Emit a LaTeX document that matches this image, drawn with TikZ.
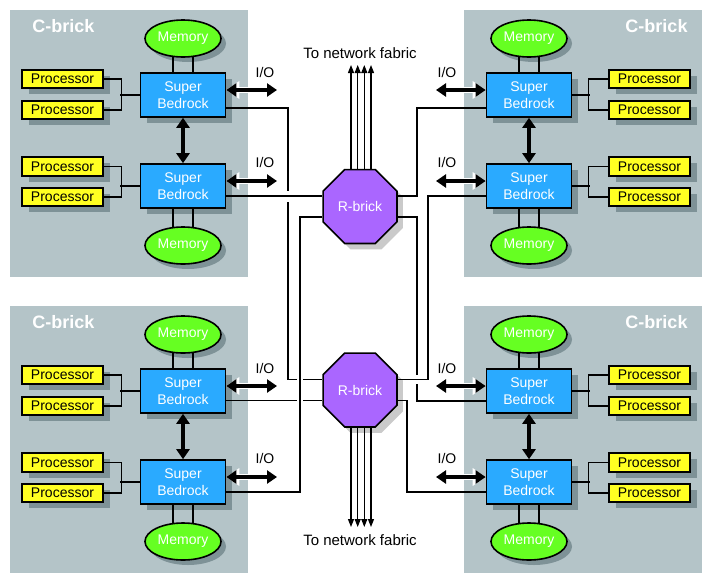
\documentclass[tikz,border=0pt]{standalone}
\usepackage{fontspec}
\setmainfont{Liberation Sans}
\usetikzlibrary{shapes.geometric, shadows, calc, arrows.meta}

\definecolor{brickgray}{HTML}{B4C4C8}
\definecolor{brickshade}{HTML}{7E9297}
\definecolor{bedrockblue}{HTML}{2AAAFF}
\definecolor{memgreen}{HTML}{66FF22}
\definecolor{procyellow}{HTML}{FFFF22}
\definecolor{rbrickpurple}{HTML}{AA66FF}
\definecolor{rbrickshade}{HTML}{CACACA}

\begin{document}
\begin{tikzpicture}[x=1pt, y=-1pt,
    cbrick/.style={fill=brickgray, minimum width=238pt, minimum height=267pt, inner sep=0pt},
    cbricklabel/.style={text=white, font=\fontsize{18}{20}\selectfont\bfseries, inner sep=0pt},
    memory/.style={ellipse, draw, line width=1.6pt, fill=memgreen, minimum width=76pt, minimum height=37pt, inner sep=0pt, text=white, font=\fontsize{14}{16}\selectfont, drop shadow={shadow xshift=5pt, shadow yshift=-5pt, fill=brickshade, opacity=1}},
    bedrock/.style={draw, line width=1.6pt, fill=bedrockblue, minimum width=85pt, minimum height=44pt, inner sep=0pt, align=center, text=white, font=\fontsize{14}{17}\selectfont, drop shadow={shadow xshift=6pt, shadow yshift=-6pt, fill=brickshade, opacity=1}},
    processor/.style={draw, line width=1.6pt, fill=procyellow, minimum width=81pt, minimum height=18.5pt, inner sep=0pt, font=\fontsize{14}{16}\selectfont, drop shadow={shadow xshift=7pt, shadow yshift=-6pt, fill=brickshade, opacity=1}},
    rbrick/.style={regular polygon, regular polygon sides=8, minimum size=80pt, draw, line width=1.6pt, fill=rbrickpurple, inner sep=0pt, text=white, font=\fontsize{14}{16}\selectfont, drop shadow={shadow xshift=6pt, shadow yshift=-6pt, fill=rbrickshade, opacity=1}},
    iolabel/.style={font=\fontsize{14}{16}\selectfont, inner sep=0pt},
    fabriclabel/.style={font=\fontsize{15}{17}\selectfont, inner sep=0pt},
    wire/.style={line width=1.3pt},
    bridge/.style={line width=1.3pt, preaction={draw=white, line width=#1}},
    bridge/.default=8pt,
    link/.style={line width=4pt, {Triangle[width=13pt,length=10pt]}-{Triangle[width=13pt,length=10pt]}},
    bus/.style={line width=4pt, {Triangle[width=13pt,length=10pt]}-{Triangle[width=13pt,length=10pt]}, preaction={draw=white, line width=5.5pt, {Triangle[width=17pt,length=13pt]}-{Triangle[width=17pt,length=13pt]}}},
    fabric/.style={line width=1.3pt, -{Triangle[width=6pt,length=8pt]}}]

    \useasboundingbox (0,0) rectangle (712,584);

    \node[cbrick] (boxTL) at (129,143.5) {};
    \node[cbrick] (boxTR) at (583,143.5) {};
    \node[cbrick] (boxBL) at (129,439.5) {};
    \node[cbrick] (boxBR) at (583,439.5) {};
    \node[cbricklabel] (cbTL) at (63.5,26) {C-brick};
    \node[cbricklabel] (cbTR) at (656.5,26) {C-brick};
    \node[cbricklabel] (cbBL) at (63.5,322) {C-brick};
    \node[cbricklabel] (cbBR) at (656.5,322) {C-brick};

    \node[memory] (memTL1) at (183,38.5) {Memory};
    \node[memory] (memTL2) at (183,245.5) {Memory};
    \node[memory] (memTR1) at (529,38.5) {Memory};
    \node[memory] (memTR2) at (529,245.5) {Memory};
    \node[memory] (memBL1) at (183,334.5) {Memory};
    \node[memory] (memBL2) at (183,541.5) {Memory};
    \node[memory] (memBR1) at (529,334.5) {Memory};
    \node[memory] (memBR2) at (529,541.5) {Memory};

    \node[bedrock] (sbTL1) at (183,95) {Super\\Bedrock};
    \node[bedrock] (sbTL2) at (183,186) {Super\\Bedrock};
    \node[bedrock] (sbTR1) at (529,95) {Super\\Bedrock};
    \node[bedrock] (sbTR2) at (529,186) {Super\\Bedrock};
    \node[bedrock] (sbBL1) at (183,391) {Super\\Bedrock};
    \node[bedrock] (sbBL2) at (183,482) {Super\\Bedrock};
    \node[bedrock] (sbBR1) at (529,391) {Super\\Bedrock};
    \node[bedrock] (sbBR2) at (529,482) {Super\\Bedrock};

    \node[processor] (pTL1) at (62.5,79) {Processor};
    \node[processor] (pTL2) at (62.5,110) {Processor};
    \node[processor] (pTL3) at (62.5,166.5) {Processor};
    \node[processor] (pTL4) at (62.5,197) {Processor};
    \node[processor] (pTR1) at (649.5,79) {Processor};
    \node[processor] (pTR2) at (649.5,110) {Processor};
    \node[processor] (pTR3) at (649.5,166.5) {Processor};
    \node[processor] (pTR4) at (649.5,197) {Processor};
    \node[processor] (pBL1) at (62.5,375) {Processor};
    \node[processor] (pBL2) at (62.5,406) {Processor};
    \node[processor] (pBL3) at (62.5,462.5) {Processor};
    \node[processor] (pBL4) at (62.5,493) {Processor};
    \node[processor] (pBR1) at (649.5,375) {Processor};
    \node[processor] (pBR2) at (649.5,406) {Processor};
    \node[processor] (pBR3) at (649.5,462.5) {Processor};
    \node[processor] (pBR4) at (649.5,493) {Processor};

    \node[rbrick] (rtop) at (360,206.5) {R-brick};
    \node[rbrick] (rbot) at (360,390) {R-brick};
    \node[fabriclabel] (fabtoplabel) at (360,53) {To network fabric};
    \node[fabriclabel] (fabbotlabel) at (360,540) {To network fabric};
    \coordinate (fabtop) at (361,65);
    \coordinate (fabbot) at (361,527);

    \node[iolabel] (ioTL1) at (265,72) {I/O};
    \node[iolabel] (ioTL2) at (265,162) {I/O};
    \node[iolabel] (ioTR1) at (447,72) {I/O};
    \node[iolabel] (ioTR2) at (447,162) {I/O};
    \node[iolabel] (ioBL1) at (265,368) {I/O};
    \node[iolabel] (ioBL2) at (265,458) {I/O};
    \node[iolabel] (ioBR1) at (447,368) {I/O};
    \node[iolabel] (ioBR2) at (447,458) {I/O};
    \coordinate (ioTL1e) at (277,90);
    \coordinate (ioTL2e) at (277,181);
    \coordinate (ioTR1e) at (436,90);
    \coordinate (ioTR2e) at (436,181);
    \coordinate (ioBL1e) at (277,386);
    \coordinate (ioBL2e) at (277,477);
    \coordinate (ioBR1e) at (436,386);
    \coordinate (ioBR2e) at (436,477);

    \draw[wire] (pTL1.east) -- ++(18,0) |- (pTL2.east);
    \draw[wire] (pTL3.east) -- ++(18,0) |- (pTL4.east);
    \draw[wire] (pBL1.east) -- ++(18,0) |- (pBL2.east);
    \draw[wire] (pBL3.east) -- ++(18,0) |- (pBL4.east);
    \draw[wire] (pTR1.west) -- ++(-20,0) |- (pTR2.west);
    \draw[wire] (pTR3.west) -- ++(-20,0) |- (pTR4.west);
    \draw[wire] (pBR1.west) -- ++(-20,0) |- (pBR2.west);
    \draw[wire] (pBR3.west) -- ++(-20,0) |- (pBR4.west);
    \draw[wire] (sbTL1.west) -- ++(-19.5,0);
    \draw[wire] (sbTL2.west) -- ++(-19.5,0);
    \draw[wire] (sbBL1.west) -- ++(-19.5,0);
    \draw[wire] (sbBL2.west) -- ++(-19.5,0);
    \draw[wire] (sbTR1.east) -- ++(17.5,0);
    \draw[wire] (sbTR2.east) -- ++(17.5,0);
    \draw[wire] (sbBR1.east) -- ++(17.5,0);
    \draw[wire] (sbBR2.east) -- ++(17.5,0);

    \draw[wire] ($(memTL1.south)+(-10,-1)$) -- ($(sbTL1.north)+(-10,0)$);
    \draw[wire] ($(memTL1.south)+(10,-1)$) -- ($(sbTL1.north)+(10,0)$);
    \draw[wire] ($(memTL2.north)+(-10,1)$) -- ($(sbTL2.south)+(-10,0)$);
    \draw[wire] ($(memTL2.north)+(10,1)$) -- ($(sbTL2.south)+(10,0)$);
    \draw[wire] ($(memTR1.south)+(-10,-1)$) -- ($(sbTR1.north)+(-10,0)$);
    \draw[wire] ($(memTR1.south)+(10,-1)$) -- ($(sbTR1.north)+(10,0)$);
    \draw[wire] ($(memTR2.north)+(-10,1)$) -- ($(sbTR2.south)+(-10,0)$);
    \draw[wire] ($(memTR2.north)+(10,1)$) -- ($(sbTR2.south)+(10,0)$);
    \draw[wire] ($(memBL1.south)+(-10,-1)$) -- ($(sbBL1.north)+(-10,0)$);
    \draw[wire] ($(memBL1.south)+(10,-1)$) -- ($(sbBL1.north)+(10,0)$);
    \draw[wire] ($(memBL2.north)+(-10,1)$) -- ($(sbBL2.south)+(-10,0)$);
    \draw[wire] ($(memBL2.north)+(10,1)$) -- ($(sbBL2.south)+(10,0)$);
    \draw[wire] ($(memBR1.south)+(-10,-1)$) -- ($(sbBR1.north)+(-10,0)$);
    \draw[wire] ($(memBR1.south)+(10,-1)$) -- ($(sbBR1.north)+(10,0)$);
    \draw[wire] ($(memBR2.north)+(-10,1)$) -- ($(sbBR2.south)+(-10,0)$);
    \draw[wire] ($(memBR2.north)+(10,1)$) -- ($(sbBR2.south)+(10,0)$);

    \draw[link] (sbTL1.south) -- (sbTL2.north);
    \draw[link] (sbTR1.south) -- (sbTR2.north);
    \draw[link] (sbBL1.south) -- (sbBL2.north);
    \draw[link] (sbBR1.south) -- (sbBR2.north);

    \draw[bus] (sbTL1.east |- ioTL1e) -- (ioTL1e);
    \draw[bus] (sbTL2.east |- ioTL2e) -- (ioTL2e);
    \draw[bus] (sbBL1.east |- ioBL1e) -- (ioBL1e);
    \draw[bus] (sbBL2.east |- ioBL2e) -- (ioBL2e);
    \draw[bus] (ioTR1e) -- (sbTR1.west |- ioTR1e);
    \draw[bus] (ioTR2e) -- (sbTR2.west |- ioTR2e);
    \draw[bus] (ioBR1e) -- (sbBR1.west |- ioBR1e);
    \draw[bus] (ioBR2e) -- (sbBR2.west |- ioBR2e);

    \draw[fabric] ($(rtop.north -| fabtop)+(-10,0)$) -- ($(fabtop)+(-10,0)$);
    \draw[fabric] ($(rtop.north -| fabtop)+(-3.3,0)$) -- ($(fabtop)+(-3.3,0)$);
    \draw[fabric] ($(rtop.north -| fabtop)+(3.3,0)$) -- ($(fabtop)+(3.3,0)$);
    \draw[fabric] ($(rtop.north -| fabtop)+(10,0)$) -- ($(fabtop)+(10,0)$);
    \draw[fabric] ($(rbot.south -| fabbot)+(-10,0)$) -- ($(fabbot)+(-10,0)$);
    \draw[fabric] ($(rbot.south -| fabbot)+(-3.3,0)$) -- ($(fabbot)+(-3.3,0)$);
    \draw[fabric] ($(rbot.south -| fabbot)+(3.3,0)$) -- ($(fabbot)+(3.3,0)$);
    \draw[fabric] ($(rbot.south -| fabbot)+(10,0)$) -- ($(fabbot)+(10,0)$);

    \coordinate (colA) at (288,0);
    \coordinate (colB) at (300,0);
    \coordinate (colC) at (407,0);
    \coordinate (colD) at (417,0);
    \coordinate (colE) at (428,0);
    \coordinate (rtW1) at ($(rtop.west)+(0,-10.5)$);
    \coordinate (rtW2) at ($(rtop.west)+(0,10.5)$);
    \coordinate (rtE1) at ($(rtop.east)+(0,-10.5)$);
    \coordinate (rtE2) at ($(rtop.east)+(0,10.5)$);
    \coordinate (rbW1) at ($(rbot.west)+(0,-10.5)$);
    \coordinate (rbW2) at ($(rbot.west)+(0,10.5)$);
    \coordinate (rbE1) at ($(rbot.east)+(0,-10.5)$);
    \coordinate (rbE2) at ($(rbot.east)+(0,10.5)$);
    \coordinate (tl1p) at ($(sbTL1.east)+(0,13)$);
    \coordinate (bl2p) at ($(sbBL2.east)+(0,10)$);
    \coordinate (tr1p) at ($(sbTR1.west)+(0,13)$);
    \coordinate (tr2p) at ($(sbTR2.west)+(0,10)$);
    \coordinate (br1p) at ($(sbBR1.west)+(0,10)$);
    \coordinate (br2p) at ($(sbBR2.west)+(0,10)$);

    \draw[wire] (tl1p) -| (colA |- rbW1) -- (rbW1);
    \draw[wire] (sbTL2.east |- rtW1) -- (rtW1);
    \draw[wire] (rtW2) -| (colB |- bl2p) -- (bl2p);
    \draw[wire] (sbBL1.east |- rbW2) -- (rbW2);
    \draw[wire] (rtE1) -| (colD |- tr1p) -- (tr1p);
    \draw[wire] (rtE2) -| (colD |- br1p) -- (br1p);
    \draw[wire] (tr2p) -| (colE |- rbE1) -- (rbE1);
    \draw[wire] (rbE2) -| (colC |- br2p) -- (br2p);

    \draw[bridge=11pt] ($(colA |- rtW1)+(-8,0)$) -- ($(colA |- rtW1)+(8,0)$);
    \draw[bridge=6pt] ($(colB |- rbW1)+(0,-8)$) -- ($(colB |- rbW1)+(0,8)$);
    \draw[bridge=6pt] ($(colB |- rbW2)+(0,-8)$) -- ($(colB |- rbW2)+(0,8)$);
    \draw[bridge=9pt] ($(colD |- rbE1)+(-8,0)$) -- ($(colD |- rbE1)+(8,0)$);
\end{tikzpicture}
\end{document}
